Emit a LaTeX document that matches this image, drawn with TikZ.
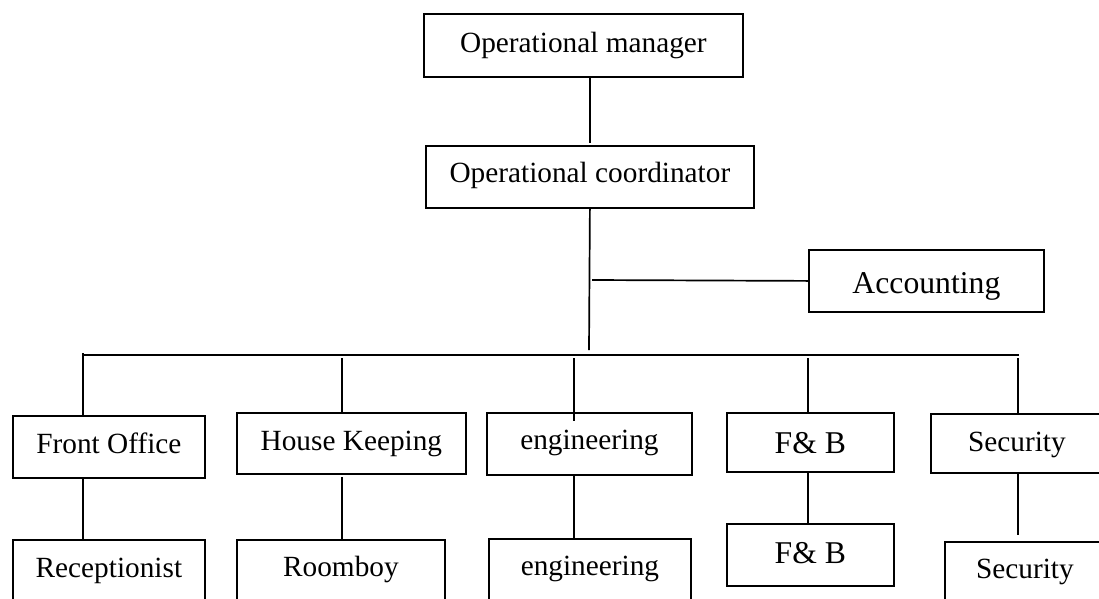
\documentclass[tikz,border=0pt]{standalone}
\usepackage{fontspec}
\setmainfont{Liberation Serif}
\usetikzlibrary{calc}

\tikzset{
  unit box/.style={draw, line width=1.8pt, inner sep=0pt, anchor=north west,
    font=\fontsize{29.3}{34}\selectfont},
  big text/.style={font=\fontsize{31.7}{37}\selectfont},
  link/.style={line width=1.7pt}
}

\begin{document}
\begin{tikzpicture}[x=1pt, y=-1pt]
  \useasboundingbox (0,0) rectangle (1099,598);
  \clip (0,0) rectangle (1099,598);
  \fill[white] (0,0) rectangle (1099,598);

  % management
  \node[unit box, minimum width=319pt, text height=39pt, text depth=24pt] (mgr) at (423,13) {Operational manager};
  \node[unit box, minimum width=328pt, text height=37pt, text depth=25pt] (coord) at (425,145) {Operational coordinator};
  \node[unit box, big text, minimum width=235pt, text height=44pt, text depth=18pt] (acct) at (808,249) {Accounting};

  % departments
  \node[unit box, minimum width=192pt, text height=38pt, text depth=24pt] (fo) at (12,415) {Front Office};
  \node[unit box, minimum width=229pt, text height=38pt, text depth=23pt] (hk) at (236,412) {House Keeping};
  \node[unit box, minimum width=205pt, text height=37pt, text depth=25pt] (eng) at (486,412) {engineering};
  \node[unit box, big text, minimum width=167pt, text height=41pt, text depth=18pt] (fb) at (726,412) {F\& B};
  \node[unit box, minimum width=172pt, text height=38pt, text depth=21pt] (sec) at (930,413) {Security};

  % staff
  \node[unit box, minimum width=192pt, text height=38pt, text depth=24pt] (rec) at (12,539) {Receptionist};
  \node[unit box, minimum width=208pt, text height=37pt, text depth=25pt] (rb) at (236,539) {Roomboy};
  \node[unit box, minimum width=202pt, text height=37pt, text depth=25pt] (eng2) at (488,538) {engineering};
  \node[unit box, big text, minimum width=167pt, text height=40pt, text depth=22pt] (fb2) at (726,523) {F\& B};
  \node[unit box, minimum width=160pt, text height=37pt, text depth=25pt] (sec2) at (944,541) {Security};

  % junction points
  \coordinate (trunk) at (589,350);
  \coordinate (accJ) at (592,280);
  \coordinate (busL) at (83,355);
  \coordinate (busR) at (1019,355);
  \coordinate (hkT) at (342,358);
  \coordinate (engT) at (574,358);
  \coordinate (fbT) at (808,358);
  \coordinate (secT) at (1018,358);

  % connectors
  \draw[link] (coord.north |- mgr.south) -- ($(coord.north)+(0,-2)$);
  \draw[link] (coord.south) -- (trunk);
  \draw[link] (accJ) -- (acct.west);
  \draw[link] (busL) -- (busR);
  \draw[link] ($(busL)+(0,-2)$) -- (busL |- fo.north);
  \draw[link] (hkT) -- (hkT |- hk.north);
  \draw[link] (engT) -- ($(engT |- eng.north)+(0,9)$);
  \draw[link] (fbT) -- (fbT |- fb.north);
  \draw[link] (secT) -- (secT |- sec.north);

  \draw[link] (fo.south -| busL) -- (rec.north -| busL);
  \draw[link] ($(hk.south -| hkT)+(0,2)$) -- (rb.north -| hkT);
  \draw[link] (eng.south -| engT) -- (eng2.north -| engT);
  \draw[link] (fb.south -| fbT) -- (fb2.north -| fbT);
  \draw[link] (sec.south -| secT) -- ($(sec2.north -| secT)+(0,-6)$);
\end{tikzpicture}
\end{document}
